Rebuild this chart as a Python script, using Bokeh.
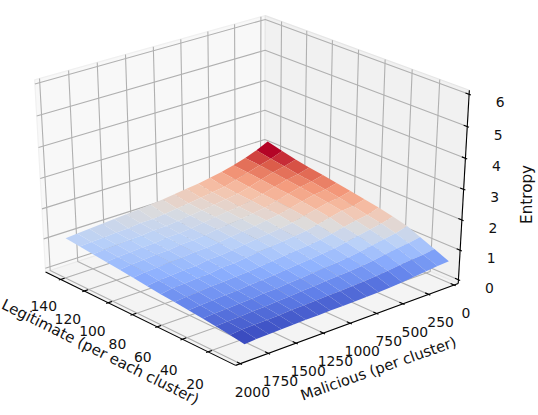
import math
from bokeh.plotting import figure
from bokeh.models import Range1d
from bokeh.core.properties import value
from bokeh.embed import file_html
from bokeh.resources import INLINE

malicious = [50,160,270,385,500,610,725,835,950,1060,1175,1285,1400,1510,1620,1735,1845,1950]
legitimate = [0,11,22,32,43,54,65,76,87,98,109,120,131,143]
entropy = [
 [.72,.70,.66,.62,.58,.55,.53,.52,.51,.50,.50,.49,.49,.48,.47,.46,.45,.42],
 [.92,.86,.84,.80,.75,.71,.68,.66,.64,.63,.61,.60,.59,.56,.55,.54,.53,.49],
 [1.12,1.05,1.01,.95,.88,.83,.80,.78,.76,.72,.70,.67,.65,.62,.61,.58,.57,.55],
 [1.30,1.19,1.13,1.06,.99,.93,.89,.86,.83,.79,.77,.73,.72,.68,.67,.64,.63,.60],
 [1.42,1.31,1.24,1.17,1.09,1.02,.98,.94,.91,.87,.83,.80,.78,.74,.73,.70,.68,.65],
 [1.52,1.40,1.34,1.26,1.17,1.10,1.05,1.02,.98,.94,.90,.86,.84,.81,.80,.76,.74,.70],
 [1.60,1.50,1.47,1.38,1.28,1.20,1.15,1.11,1.07,1.03,.98,.93,.92,.86,.85,.82,.80,.74],
 [1.68,1.59,1.55,1.45,1.36,1.26,1.21,1.16,1.12,1.07,1.02,.98,.97,.91,.90,.87,.84,.79],
 [1.76,1.66,1.61,1.52,1.42,1.33,1.27,1.22,1.17,1.13,1.07,1.03,1.02,.97,.96,.92,.90,.85],
 [1.83,1.74,1.68,1.58,1.47,1.37,1.31,1.26,1.21,1.17,1.11,1.07,1.06,1.01,1.00,.97,.95,.90],
 [1.90,1.79,1.73,1.62,1.51,1.41,1.34,1.30,1.25,1.20,1.14,1.10,1.10,1.05,1.04,1.01,.99,.95],
 [1.98,1.87,1.79,1.67,1.55,1.45,1.39,1.33,1.28,1.23,1.18,1.14,1.14,1.09,1.08,1.05,1.03,1.00],
 [2.08,1.94,1.84,1.72,1.60,1.49,1.43,1.37,1.32,1.27,1.22,1.18,1.18,1.13,1.12,1.09,1.07,1.05],
 [2.20,2.02,1.88,1.76,1.66,1.58,1.51,1.46,1.41,1.36,1.32,1.28,1.25,1.22,1.19,1.16,1.13,1.10],
]
x_ticks = [0,250,500,750,1000,1250,1500,1750,2000]
y_ticks = [20,40,60,80,100,120,140]
z_ticks = [0,1,2,3,4,5,6]
x_title = "Malicious (per cluster)"
y_title = "Legitimate (per each cluster)"
z_title = "Entropy"

xlim = (0, 2000); ylim = (2, 150); zlim = (0, 6)
elev = math.radians(30); azim = math.radians(49); dist = 10
sx, ox, sy, oy = 2881, 250.5, 2134, 183.4
coolwarm = ["#3b4cc0","#6282ea","#8db0fe","#b8d0f9","#dddcdc","#f5c4ac","#f49a7b","#dc5d4a","#b40426"]
FONT = value("DejaVu Sans")
M = 1/48

def cmap(f):
    f = max(0, min(1, f)) * (len(coolwarm)-1)
    i = min(int(f), len(coolwarm)-2); t = f-i
    a = coolwarm[i]; b = coolwarm[i+1]
    c = [round(int(a[j:j+2],16)*(1-t)+int(b[j:j+2],16)*t) for j in (1,3,5)]
    return "#%02x%02x%02x" % tuple(c)

u = (-math.sin(azim), math.cos(azim), 0)
n = (math.cos(elev)*math.cos(azim), math.cos(elev)*math.sin(azim), math.sin(elev))
v = (-math.sin(elev)*math.cos(azim), -math.sin(elev)*math.sin(azim), math.cos(elev))
def dot(a, b): return sum(i*j for i, j in zip(a, b))
def proj_n(X, Y, Z):
    d = (X-.5, Y-.5, Z-.5)
    w = dist - dot(n, d)
    return dot(u, d)/w, dot(v, d)/w, w
def nx(x): return (x-xlim[0])/(xlim[1]-xlim[0])
def ny(y): return (ylim[1]-y)/(ylim[1]-ylim[0])
def nz(z): return (z-zlim[0])/(zlim[1]-zlim[0])
def proj(x, y, z): return proj_n(nx(x), ny(y), nz(z))

p = figure(width=538, height=415, output_backend="svg", toolbar_location=None,
           x_range=Range1d(-ox/sx, (538-ox)/sx), y_range=Range1d((oy-415)/sy, oy/sy),
           x_axis_location=None, y_axis_location=None, min_border=0,
           margin=0)
p.grid.visible = False
p.outline_line_color = None
p.background_fill_color = "white"
p.border_fill_color = "white"

lo, hi = -M, 1+M
def pane(corners, fill, edge):
    pts = [proj_n(*c)[:2] for c in corners]
    p.patch([q[0] for q in pts], [q[1] for q in pts], fill_color=fill, line_color=edge, line_width=1.2)
pane([(lo,lo,lo),(hi,lo,lo),(hi,lo,hi),(lo,lo,hi)], "#f8f8f8", "#f0f0f0")
pane([(lo,lo,lo),(lo,hi,lo),(lo,hi,hi),(lo,lo,hi)], "#f1f1f1", "#e6e6e6")
pane([(lo,lo,lo),(hi,lo,lo),(hi,hi,lo),(lo,hi,lo)], "#f4f4f4", "#ebebeb")

gx, gy = [], []
def poly(pts):
    q = [proj_n(*c)[:2] for c in pts]
    gx.append([a[0] for a in q]); gy.append([a[1] for a in q])
for t in x_ticks:
    X = nx(t); poly([(X,hi,lo),(X,lo,lo),(X,lo,hi)])
for t in y_ticks:
    Y = ny(t); poly([(hi,Y,lo),(lo,Y,lo),(lo,Y,hi)])
for t in z_ticks:
    Z = nz(t); poly([(hi,lo,Z),(lo,lo,Z),(lo,hi,Z)])
p.multi_line(gx, gy, line_color="#b0b0b0", line_width=1.1)

ax, ay = [], []
def seg(a, b):
    pa = proj_n(*a); pb = proj_n(*b)
    ax.append([pa[0], pb[0]]); ay.append([pa[1], pb[1]])
seg((hi,lo,lo),(hi,hi,lo)); seg((hi,hi,lo),(lo,hi,lo)); seg((lo,hi,lo),(lo,hi,hi))
dl = (hi-lo)/12
for t in x_ticks:
    seg((nx(t),hi+.1*dl,lo),(nx(t),hi-.2*dl,lo))
for t in y_ticks:
    seg((hi+.1*dl,ny(t),lo),(hi-.2*dl,ny(t),lo))
for t in z_ticks:
    seg((lo,hi+.1*dl,nz(t)),(lo,hi-.2*dl,nz(t)))
p.multi_line(ax, ay, line_color="black", line_width=1.1)

cells = []
for i in range(len(legitimate)-1):
    for j in range(len(malicious)-1):
        idx = [(i,j),(i,j+1),(i+1,j+1),(i+1,j)]
        pts = [proj(malicious[b], legitimate[a], entropy[a][b]) for a, b in idx]
        mz = sum(entropy[a][b] for a, b in idx)/4
        cells.append((sum(q[2] for q in pts)/4, [q[0] for q in pts], [q[1] for q in pts], mz))
mzs = [c[3] for c in cells]
zmin, zmax = min(mzs), max(mzs)
cells.sort(key=lambda c: -c[0])
p.patches([c[1] for c in cells], [c[2] for c in cells],
          fill_color=[cmap((c[3]-zmin)/(zmax-zmin)) for c in cells], line_color=None)

def labels(xy, texts, dx, dy, size="13.9px", angle=0.0):
    p.text([q[0] for q in xy], [q[1] for q in xy], text=texts, x_offset=dx, y_offset=dy, angle=angle,
           text_font=FONT, text_font_size=size, text_align="center", text_baseline="middle", text_color="#111111")

labels([proj_n(nx(t),hi,lo) for t in x_ticks], [str(t) for t in x_ticks], 12, 28)
labels([proj_n(hi,ny(t),lo) for t in y_ticks], [str(t) for t in y_ticks],
       [-17 + (140-t)/120*4 for t in y_ticks], [27 + (140-t)/120*5 for t in y_ticks])
labels([proj_n(lo,hi,nz(t)) for t in z_ticks], [str(t) for t in z_ticks], 31, 8)
labels([proj_n(.5,hi,lo)], [x_title], 28, 45, "14.8px", math.radians(19.5))
labels([proj_n(hi,.5,lo)], [y_title], -37, 35, "15px", math.radians(-26.4))
labels([proj_n(lo,hi,.5)], [z_title], 63, 5, "15.2px", math.radians(90))

open("out.html", "w").write(file_html(p, INLINE))
